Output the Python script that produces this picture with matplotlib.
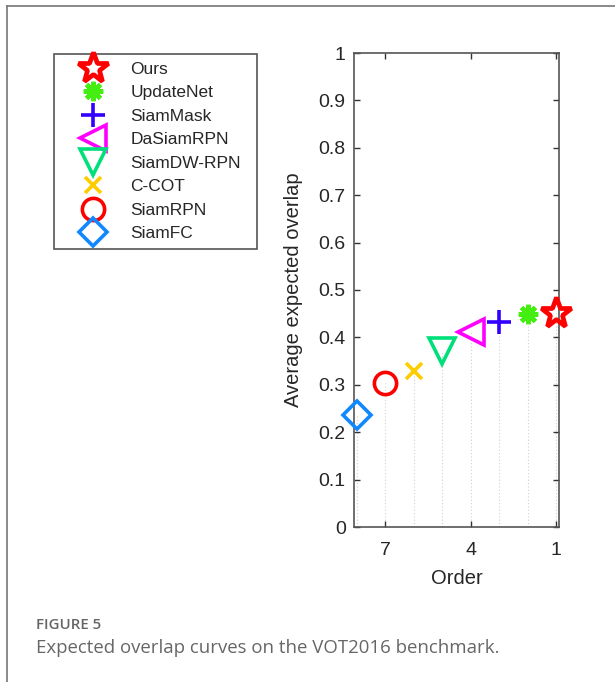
import matplotlib.pyplot as plt
from matplotlib.lines import Line2D

# data
trackers = ["Ours", "UpdateNet", "SiamMask", "DaSiamRPN", "SiamDW-RPN", "C-COT", "SiamRPN", "SiamFC"]
order = [1, 2, 3, 4, 5, 6, 7, 8]
eao = [0.451, 0.450, 0.432, 0.412, 0.372, 0.330, 0.303, 0.236]
markers = ["*", "*", "+", "<", "v", "x", "o", "D"]
colors = ["#ff0000", "#44ee11", "#3300ff", "#ff00ff", "#00e07a", "#ffcc00", "#ff0000", "#1188ff"]
yticks = [0, 0.1, 0.2, 0.3, 0.4, 0.5, 0.6, 0.7, 0.8, 0.9, 1]
ytick_labels = ["0", "0.1", "0.2", "0.3", "0.4", "0.5", "0.6", "0.7", "0.8", "0.9", "1"]

W, H = 615, 682
fig = plt.figure(figsize=(W/100, H/100), dpi=100)
plt.rcParams['font.family'] = ['Liberation Sans', 'DejaVu Sans']

# page frame (left and top edges)
fig.add_artist(Line2D([7/W, 7/W], [0, 1-6/H], color="#777777", lw=1.2))
fig.add_artist(Line2D([7/W, 1], [1-6/H, 1-6/H], color="#777777", lw=1.2))

ax = fig.add_axes([354/W, 1-527/H, (559-354)/W, (527-53)/H])

sizes = {"*": 23, "+": 17, "<": 19, "v": 19, "x": 12, "o": 16, "D": 14}
handles = []
for i in range(len(trackers)):
    ax.vlines(order[i], 0, eao[i], colors="#d0d0d0", linestyles=(0, (1, 2)), lw=0.8, zorder=1)
    m = markers[i]
    ms = sizes[m]
    if trackers[i] == "UpdateNet":
        # asterisk-like burst
        h, = ax.plot(order[i], eao[i], marker=(8, 2, 0), ms=14, mew=3.2,
                     color=colors[i], ls="none", label=trackers[i], zorder=3, clip_on=False)
    else:
        mew = 3.4 if m == "*" else 2.6
        h, = ax.plot(order[i], eao[i], marker=m, ms=ms, mew=mew, mfc="none",
                     mec=colors[i], color=colors[i], ls="none", label=trackers[i],
                     zorder=3, clip_on=False)
    handles.append(h)

ax.set_xlim(8.1, 0.9)
ax.set_ylim(0, 1)
ax.set_xticks([7, 4, 1])
ax.set_xticklabels(["7", "4", "1"])
ax.set_yticks(yticks)
ax.set_yticklabels(ytick_labels)
ax.tick_params(direction="in", length=4, width=1, colors="#333333", labelsize=14,
               top=True, right=True, labelcolor="#262626", pad=6)
ax.tick_params(axis="x", pad=11)
for s in ax.spines.values():
    s.set_color("#555555")
    s.set_linewidth(1.2)
ax.set_xlabel("Order", fontsize=14.5, color="#262626", labelpad=7)
ax.set_ylabel("Average expected overlap", fontsize=14.5, color="#262626", labelpad=11)

leg = fig.legend(handles=handles, loc="upper left",
                 bbox_to_anchor=(54/W, 1-248/H, (257-54)/W, (248-54)/H),
                 mode="expand", bbox_transform=fig.transFigure, borderaxespad=0,
                 fontsize=12.5, labelspacing=0.48, handlelength=3.6, handletextpad=0.35,
                 borderpad=0.45, fancybox=False, edgecolor="#555555", framealpha=1)
leg.get_frame().set_linewidth(1.2)
for t in leg.get_texts():
    t.set_color("#262626")

fig.text(36/W, 1-625/H, "FIGURE 5", fontsize=10.8, color="#666666",
         family=["Open Sans", "DejaVu Sans"], weight="semibold", va="center")
fig.text(36/W, 1-648/H, "Expected overlap curves on the VOT2016 benchmark.", fontsize=13.4,
         color="#666666", family=["Open Sans", "DejaVu Sans"], va="center")

fig.savefig("out.png", dpi=100)
